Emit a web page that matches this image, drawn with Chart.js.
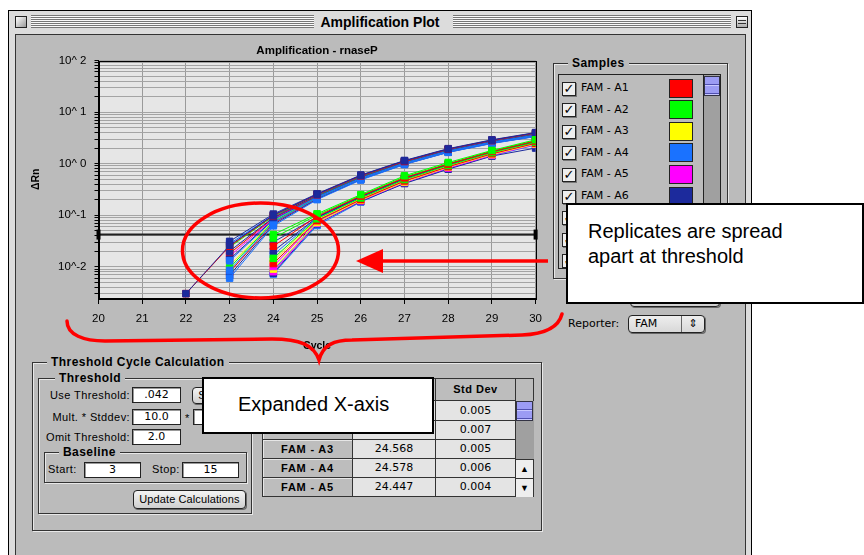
<!DOCTYPE html>
<html><head><meta charset="utf-8">
<script src="https://cdn.jsdelivr.net/npm/chart.js@4.4.1/dist/chart.umd.min.js"></script>
<style>
body{margin:0;width:864px;height:555px;overflow:hidden;background:#fff;position:relative;font-family:"Liberation Sans",Arial,sans-serif;color:#000;}
.a{position:absolute;box-sizing:border-box;}
#win{left:8px;top:10px;width:744px;height:560px;border:1px solid #000;background:#dcdcdc;}
#content{left:15px;top:34px;width:731px;height:540px;background:#bbbbbb;border:1px solid #333;}
.stripes{background:repeating-linear-gradient(to bottom,#777 0,#777 1px,#fafafa 1px,#fafafa 2px);height:13px;top:15px;}
.wbox{width:12px;height:12px;border:1px solid #222;background:linear-gradient(135deg,#fff,#999);}
#wtitle{left:8px;width:744px;top:12px;text-align:center;font-weight:bold;font-size:14px;line-height:20px;}
.grp{border:1px solid #333;box-shadow:1px 1px 0 #e8e8e8, inset 1px 1px 0 #e8e8e8;}
.glab{background:#bbbbbb;font-weight:bold;font-size:12px;letter-spacing:0.45px;padding:0 4px;line-height:14px;}
.lbl{font-size:11px;letter-spacing:0.4px;line-height:16px;white-space:nowrap;}
.fld{background:#fff;border:1px solid #222;box-shadow:inset 1px 1px 0 #999;font-size:11px;text-align:center;line-height:14px;font-family:"DejaVu Sans",sans-serif;}
.btn{border:1px solid #222;border-radius:4px;background:linear-gradient(#f4f4f4,#cfcfcf);box-shadow:1px 1px 0 #666;font-size:11px;text-align:center;}
.row{height:21.6px;left:0;width:145px;}
.cb{width:14px;height:14px;border:1px solid #222;background:#eee;box-shadow:1px 1px 0 #777;font-family:"DejaVu Sans",sans-serif;font-size:13px;font-weight:bold;line-height:12px;text-align:center;}
.stxt{font-family:"DejaVu Sans",sans-serif;font-size:11px;line-height:14px;white-space:nowrap;}
.sw{width:24px;height:19px;border:1px solid #222;}
.cell{border-right:1px solid #333;border-bottom:1px solid #333;font-size:11px;text-align:center;}
.note{background:#fff;border:2px solid #000;font-size:20px;line-height:25px;font-family:"Liberation Sans",Arial,sans-serif;z-index:10;}
#ann{left:0;top:0;z-index:6;}
</style></head>
<body>
<div class="a" id="win"></div>
<div class="a wbox" style="left:15px;top:16px;"></div>
<div class="a stripes" style="left:31px;width:283px;"></div>
<div class="a stripes" style="left:453px;width:278px;"></div>
<div class="a wbox" style="left:736px;top:16px;background:linear-gradient(#fff,#aaa);"></div>
<div class="a" style="left:738px;top:20px;width:8px;height:4px;border-top:1px solid #333;border-bottom:1px solid #333;"></div>
<div class="a" id="wtitle">Amplification Plot</div>
<div class="a" id="content"></div>

<canvas id="plot" class="a" width="530" height="315" style="left:20px;top:40px;width:530px;height:315px;"></canvas>

<!-- Samples panel -->
<div class="a grp" style="left:553px;top:63px;width:175px;height:216px;"></div>
<div class="a glab" style="left:568px;top:56px;">Samples</div>
<div class="a" id="list" style="left:558px;top:74px;width:163px;height:195px;border:1px solid #222;overflow:hidden;background:#bcbcbc;"></div>
<div class="a btn" style="left:630px;top:286px;width:90px;height:21px;"></div>
<div class="a lbl" style="left:568px;top:316px;font-family:'DejaVu Sans',sans-serif;letter-spacing:0;">Reporter:</div>
<div class="a btn" style="left:628px;top:315px;width:77px;height:18px;text-align:left;font-family:'DejaVu Sans',sans-serif;line-height:16px;padding-left:6px;background:linear-gradient(#eee,#d8d8d8);">FAM<span style="position:absolute;right:0;top:0;width:22px;height:16px;border-left:1px solid #666;text-align:center;font-size:11px;">⇕</span></div>

<!-- Threshold Cycle Calculation -->
<div class="a grp" style="left:32px;top:362px;width:510px;height:169px;"></div>
<div class="a glab" style="left:47px;top:355px;">Threshold Cycle Calculation</div>
<div class="a grp" style="left:38px;top:378px;width:214px;height:136px;"></div>
<div class="a glab" style="left:55px;top:371px;">Threshold</div>
<div class="a lbl" style="right:734px;top:387px;">Use Threshold:</div>
<div class="a fld" style="left:132px;top:387px;width:49px;height:16px;" id="fThr"></div>
<div class="a btn" style="left:192px;top:387px;width:40px;height:17px;line-height:15px;">Show</div>
<div class="a lbl" style="right:734px;top:409px;">Mult. * Stddev:</div>
<div class="a fld" style="left:132px;top:409px;width:49px;height:16px;" id="fMult"></div>
<div class="a lbl" style="left:185px;top:410px;">*</div>
<div class="a fld" style="left:193px;top:409px;width:45px;height:16px;"></div>
<div class="a lbl" style="right:734px;top:429px;">Omit Threshold:</div>
<div class="a fld" style="left:132px;top:429px;width:49px;height:16px;" id="fOmit"></div>
<div class="a grp" style="left:44px;top:452px;width:203px;height:31px;"></div>
<div class="a glab" style="left:59px;top:445px;">Baseline</div>
<div class="a lbl" style="left:48px;top:461px;">Start:</div>
<div class="a fld" style="left:84px;top:462px;width:57px;height:16px;" id="fStart"></div>
<div class="a lbl" style="left:152px;top:461px;">Stop:</div>
<div class="a fld" style="left:182px;top:462px;width:57px;height:16px;" id="fStop"></div>
<div class="a btn" style="left:133px;top:490px;width:113px;height:19px;line-height:17px;letter-spacing:0.1px;">Update Calculations</div>

<div class="a" id="table" style="left:262px;top:378px;width:272px;height:119px;border:1px solid #333;background:#bbb;"></div>

<div class="a note" style="left:202px;top:377px;width:232px;height:57px;padding:13px 0 0 34px;">Expanded X-axis</div>
<div class="a note" style="left:566px;top:203px;width:298px;height:101px;padding:14px 0 0 20px;">Replicates are spread<br>apart at threshold</div>

<svg id="ann" class="a" width="864" height="555" viewBox="0 0 864 555">
  <ellipse cx="260.5" cy="250.5" rx="78" ry="47.5" fill="none" stroke="#ff0000" stroke-width="3.5"/>
  <line x1="378" y1="261" x2="548" y2="261" stroke="#ff0000" stroke-width="3.5"/>
  <polygon points="356,261 383,249 383,273" fill="#ff0000"/>
  <path d="M67 321 C67 335 84 341 105 341 L272 339 C300 339 314 345 319 360 C323 345 334 340 352 340 L522 335 C546 334 559 326 562 314" fill="none" stroke="#ff0000" stroke-width="3.5" stroke-linecap="round"/>
</svg>

<script>
// ---------------- data ----------------
const cycles = [22, 23, 24, 25, 26, 27, 28, 29, 30];
const threshold = 0.042;
const yMin = 0.00247, yMax = 100;
const xMin = 20, xMax = 30;
// replicates crossing earlier (first point at cycle 22/23)
const earlyCurves = [
  [0.003, 0.026, 0.100, 0.255, 0.59, 1.13, 1.92, 2.85, 3.95],
  [0.003, 0.025, 0.098, 0.250, 0.58, 1.10, 1.90, 2.80, 3.90],
  [null, 0.031, 0.105, 0.260, 0.60, 1.15, 1.95, 2.90, 4.00],
  [null, 0.028, 0.100, 0.250, 0.58, 1.12, 1.90, 2.80, 3.90],
  [null, 0.020, 0.090, 0.245, 0.57, 1.10, 1.88, 2.78, 3.85],
  [null, 0.013, 0.080, 0.225, 0.52, 1.03, 1.76, 2.62, 3.58],
  [null, 0.0085, 0.072, 0.215, 0.50, 0.99, 1.70, 2.55, 3.45],
  [null, 0.006, 0.062, 0.200, 0.48, 0.96, 1.65, 2.45, 3.35],
  [null, 0.014, 0.082, 0.228, 0.53, 1.04, 1.78, 2.65, 3.60],
  [null, 0.0068, 0.066, 0.205, 0.49, 0.97, 1.66, 2.48, 3.38],
  [null, 0.024, 0.095, 0.240, 0.56, 1.08, 1.85, 2.75, 3.80],
  [null, 0.0095, 0.075, 0.218, 0.51, 1.00, 1.72, 2.58, 3.50],
  [null, 0.018, 0.088, 0.235, 0.55, 1.06, 1.82, 2.70, 3.70],
  [null, 0.0078, 0.070, 0.210, 0.50, 0.98, 1.68, 2.50, 3.40],
  [null, 0.016, 0.085, 0.230, 0.54, 1.05, 1.80, 2.68, 3.65],
  [null, 0.0105, 0.078, 0.220, 0.52, 1.02, 1.75, 2.60, 3.55]
];
const earlyColorIdx = [5, 0, 5, 3, 5, 3, 3, 3, 5, 5, 1, 1, 0, 0, 4, 2];
// replicates crossing later (first point at cycle 24)
const lateCurves = [
  [null, null, 0.042, 0.106, 0.250, 0.58, 1.05, 1.80, 2.90],
  [null, null, 0.025, 0.095, 0.235, 0.53, 0.98, 1.72, 2.75],
  [null, null, 0.0145, 0.085, 0.215, 0.49, 0.92, 1.63, 2.60],
  [null, null, 0.0115, 0.078, 0.200, 0.46, 0.87, 1.55, 2.48],
  [null, null, 0.036, 0.100, 0.240, 0.55, 1.00, 1.75, 2.80],
  [null, null, 0.030, 0.092, 0.230, 0.52, 0.97, 1.70, 2.70],
  [null, null, 0.020, 0.090, 0.225, 0.51, 0.95, 1.68, 2.65],
  [null, null, 0.013, 0.082, 0.210, 0.48, 0.90, 1.60, 2.55],
  [null, null, 0.0101, 0.080, 0.205, 0.47, 0.88, 1.58, 2.50],
  [null, null, 0.017, 0.088, 0.220, 0.50, 0.94, 1.66, 2.62],
  [null, null, 0.009, 0.072, 0.195, 0.44, 0.85, 1.50, 2.40],
  [null, null, 0.008, 0.070, 0.190, 0.43, 0.82, 1.45, 2.35],
  [null, null, 0.0085, 0.075, 0.200, 0.45, 0.86, 1.52, 2.45],
  [null, null, 0.0075, 0.068, 0.185, 0.41, 0.78, 1.40, 2.00],
  [null, null, 0.0072, 0.063, 0.180, 0.42, 0.80, 1.42, 2.30]
];
const lateColorIdx = [1, 0, 1, 0, 1, 5, 5, 2, 4, 3, 2, 4, 3, 5, 3];
const sampleNames = ["FAM - A1","FAM - A2","FAM - A3","FAM - A4","FAM - A5","FAM - A6","FAM - A7","FAM - A8","FAM - A9"];
const tableNames = ["", "", "FAM - A3", "FAM - A4", "FAM - A5"];
const tableCt = ["", "", "24.568", "24.578", "24.447"];
const tableSd = ["0.005", "0.007", "0.005", "0.006", "0.004"];
const fieldValues = {fThr: ".042", fMult: "10.0", fOmit: "2.0", fStart: "3", fStop: "15"};
const yGridDecades = [0.001, 0.01, 0.1, 1, 10];
const yGridSteps = [1, 2, 3, 4, 5, 6, 7, 8, 9];

// ---------------- styles ----------------
const palette = ["#ff0000", "#00ff00", "#ffff00", "#1a72ff", "#ff00ff", "#1c2a9c"];
const sampleColors = [0, 1, 2, 3, 4, 5, 0, 1, 2];

// ---------------- UI ----------------
for (const id in fieldValues) document.getElementById(id).textContent = fieldValues[id];
const list = document.getElementById('list');
sampleNames.forEach((n, i) => {
  const top = 3.5 + i * 21.6;
  list.insertAdjacentHTML('beforeend',
    `<div class="a cb" style="left:3px;top:${top + 3}px;">✓</div>` +
    `<div class="a stxt" style="left:22px;top:${top + 2.5}px;">${n}</div>` +
    `<div class="a sw" style="left:110px;top:${top}px;background:${palette[sampleColors[i]]};"></div>`);
});
list.insertAdjacentHTML('beforeend',
  `<div class="a" style="left:144px;top:0;width:18px;height:195px;background:#a0a0a0;border-left:1px solid #222;"></div>` +
  `<div class="a" style="left:145px;top:1px;width:16px;height:20px;background:repeating-linear-gradient(to bottom,#9c9cf4 0,#9c9cf4 7px,#5050b0 7px,#5050b0 8px,#c8c8ff 8px,#c8c8ff 9px);border:1px solid #334;"></div>`);

const table = document.getElementById('table');
const colX = [0, 90, 173, 253], colW = [90, 83, 80, 18];
const rowY = [0, 22, 42, 61, 80, 99], rowH = [22, 20, 19, 19, 19, 19];
table.insertAdjacentHTML('beforeend',
  `<div class="a cell" style="left:${colX[2]}px;top:0;width:${colW[2]}px;height:22px;background:#bdbdbd;font-weight:bold;line-height:21px;letter-spacing:0.5px;">Std Dev</div>` +
  `<div class="a cell" style="left:${colX[0]}px;top:0;width:${colW[0]}px;height:22px;background:#bdbdbd;"></div>` +
  `<div class="a cell" style="left:${colX[1]}px;top:0;width:${colW[1]}px;height:22px;background:#bdbdbd;"></div>`);
tableSd.forEach((sd, i) => {
  const y = rowY[i + 1], h = rowH[i + 1];
  table.insertAdjacentHTML('beforeend',
    `<div class="a cell" style="left:0;top:${y}px;width:${colW[0]}px;height:${h}px;background:#bdbdbd;font-weight:bold;letter-spacing:0.8px;line-height:${h-1}px;box-shadow:inset 1px 1px 0 #e6e6e6;">${tableNames[i]}</div>` +
    `<div class="a cell" style="left:${colX[1]}px;top:${y}px;width:${colW[1]}px;height:${h}px;background:#e4e4e4;font-family:'DejaVu Sans',sans-serif;line-height:${h-1}px;">${tableCt[i]}</div>` +
    `<div class="a cell" style="left:${colX[2]}px;top:${y}px;width:${colW[2]}px;height:${h}px;background:#e4e4e4;font-family:'DejaVu Sans',sans-serif;line-height:${h-1}px;">${sd}</div>`);
});
table.insertAdjacentHTML('beforeend',
  `<div class="a" style="left:${colX[3]}px;top:22px;width:18px;height:58px;background:#a0a0a0;"></div>` +
  `<div class="a" style="left:${colX[3]}px;top:22px;width:17px;height:20px;background:repeating-linear-gradient(to bottom,#9c9cf4 0,#9c9cf4 7px,#5050b0 7px,#5050b0 8px,#c8c8ff 8px,#c8c8ff 9px);border:1px solid #334;"></div>` +
  `<div class="a" style="left:${colX[3]}px;top:80px;width:17px;height:19px;background:#eee;border-top:1px solid #333;font-size:9px;text-align:center;line-height:18px;">▲</div>` +
  `<div class="a" style="left:${colX[3]}px;top:99px;width:17px;height:19px;background:#eee;border-top:1px solid #333;font-size:9px;text-align:center;line-height:18px;">▼</div>`);

// ---------------- chart ----------------
function toPoints(arr) {
  const pts = [];
  arr.forEach((v, i) => { if (v !== null) pts.push({x: cycles[i], y: v}); });
  return pts;
}
const datasets = [];
lateCurves.forEach((c, i) => {
  const col = palette[lateColorIdx[i]];
  datasets.push({data: toPoints(c), borderColor: col, backgroundColor: col, pointBackgroundColor: col, pointBorderColor: col});
});
earlyCurves.forEach((c, i) => {
  const col = palette[earlyColorIdx[i]];
  datasets.push({data: toPoints(c), borderColor: col, backgroundColor: col, pointBackgroundColor: col, pointBorderColor: col});
});
datasets.forEach(d => Object.assign(d, {borderWidth: 1, pointStyle: 'rect', pointRadius: 4.6, pointBorderWidth: 1, tension: 0}));
datasets.push({data: [{x: xMin, y: threshold}, {x: xMax, y: threshold}], borderColor: '#222', borderWidth: 2,
  pointStyle: 'line', pointRotation: 90, pointRadius: 5, pointBorderWidth: 4, pointBorderColor: '#000', clip: false, tension: 0});

const yGrid = [];
yGridDecades.forEach(d => yGridSteps.forEach(s => { const v = +(d * s).toPrecision(3); if (v >= yMin) yGrid.push(v); }));
yGrid.push(yMax);

const plotFrame = {
  id: 'plotFrame',
  beforeDatasetsDraw(chart) {},
  beforeDraw(chart) {
    const a = chart.chartArea, c = chart.ctx;
    c.save(); c.fillStyle = '#e6e6e6'; c.fillRect(a.left, a.top, a.right - a.left, a.bottom - a.top); c.restore();
  },
  afterDraw(chart) {
    const a = chart.chartArea, c = chart.ctx;
    c.save(); c.strokeStyle = '#000'; c.lineWidth = 1;
    c.strokeRect(Math.round(a.left) + 0.5, Math.round(a.top) + 0.5, Math.round(a.right - a.left), Math.round(a.bottom - a.top));
    c.restore();
  }
};

const fTick = {family: "'Liberation Sans', Arial, sans-serif", size: 11.5};
new Chart(document.getElementById('plot'), {
  type: 'line',
  data: {datasets},
  options: {
    responsive: false, animation: false, devicePixelRatio: 1,
    layout: {padding: {left: 0, right: 11.5, top: 0, bottom: 0}},
    plugins: {
      legend: {display: false}, tooltip: {enabled: false},
      title: {display: true, text: 'Amplification - rnaseP', fullSize: false, color: '#000',
        font: {family: "'Liberation Sans', Arial, sans-serif", size: 11.5, weight: 'bold'}, padding: {top: 4, bottom: 2.7}}
    },
    scales: {
      x: {type: 'linear', min: xMin, max: xMax,
        ticks: {stepSize: 1, color: '#000', font: fTick, padding: 8, maxRotation: 0},
        grid: {color: '#9a9a9a', tickColor: '#000', tickLength: 6, lineWidth: 1},
        border: {color: '#000', width: 1},
        title: {display: true, text: 'Cycle', color: '#000', font: {family: "'Liberation Sans', Arial, sans-serif", size: 10.5, weight: 'bold'}, padding: {top: 0, bottom: 3}},
        afterFit(s) { s.height = 57; }
      },
      y: {type: 'logarithmic', min: yMin, max: yMax,
        afterBuildTicks(s) { s.ticks = yGrid.map(v => ({value: v})); },
        ticks: {autoSkip: false, color: '#000', font: fTick, padding: 8,
          callback(v) {
            const e = Math.log10(v), r = Math.round(e);
            if (Math.abs(e - r) > 1e-6) return '';
            return r >= 0 ? '10^ ' + r : '10^' + r;
          }},
        grid: {color: '#a4a4a4', tickColor: '#000', tickLength: 4, lineWidth: 1},
        border: {color: '#000', width: 1},
        title: {display: true, text: 'ΔRn', color: '#000', font: {family: "'Liberation Sans', Arial, sans-serif", size: 10.5, weight: 'bold'}, padding: {top: 10, bottom: 0}},
        afterFit(s) { s.width = 78.5; }
      }
    }
  },
  plugins: [plotFrame]
});
</script>
</body></html>
